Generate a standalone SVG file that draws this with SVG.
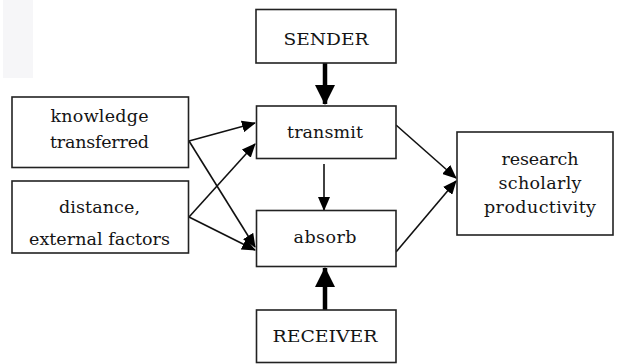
<svg xmlns="http://www.w3.org/2000/svg" width="624" height="364" viewBox="0 0 624 364">
<style>
.box{fill:#fff;stroke:#222;stroke-width:1.6}
.t{font-family:"DejaVu Serif","Liberation Serif",serif;font-size:17.5px;fill:#141414;text-anchor:middle}
.ln{stroke:#111;stroke-width:1.6;fill:none}
.thick{stroke:#000;stroke-width:4.5;fill:none}
</style>
<defs>
<marker id="ah" markerUnits="userSpaceOnUse" markerWidth="14" markerHeight="12" refX="13" refY="6" orient="auto">
<path d="M0,0 L14,6 L0,12 Z" fill="#000"/>
</marker>
<marker id="ahb" markerUnits="userSpaceOnUse" markerWidth="20" markerHeight="20" refX="19" refY="10" orient="auto">
<path d="M0,0 L20,10 L0,20 Z" fill="#000"/>
</marker>
</defs>
<rect x="3" y="0" width="30" height="78" fill="#f6f6f8"/>
<g id="connectors">
<line class="thick" x1="325" y1="63" x2="325" y2="104" marker-end="url(#ahb)"/>
<line class="ln" x1="324" y1="164" x2="324" y2="210" marker-end="url(#ah)"/>
<line class="thick" x1="325" y1="310" x2="325" y2="268" marker-end="url(#ahb)"/>
<line class="ln" x1="189" y1="141" x2="255" y2="123" marker-end="url(#ah)"/>
<line class="ln" x1="189" y1="141" x2="255" y2="247" marker-end="url(#ah)"/>
<line class="ln" x1="189" y1="217" x2="255" y2="144" marker-end="url(#ah)"/>
<line class="ln" x1="189" y1="217" x2="255" y2="250" marker-end="url(#ah)"/>
<line class="ln" x1="396" y1="125" x2="456" y2="178" marker-end="url(#ah)"/>
<line class="ln" x1="396" y1="252" x2="456" y2="181" marker-end="url(#ah)"/>
</g>
<g id="sender">
<rect class="box" x="256" y="9.5" width="140" height="53.5"/>
<text class="t" x="326" y="45" textLength="85" lengthAdjust="spacingAndGlyphs">SENDER</text>
</g>
<g id="transmit">
<rect class="box" x="256.5" y="106" width="139.5" height="52.5"/>
<text class="t" x="325" y="138" textLength="76" lengthAdjust="spacing">transmit</text>
</g>
<g id="absorb">
<rect class="box" x="256.5" y="210.5" width="139.5" height="56"/>
<text class="t" x="325" y="243" textLength="63" lengthAdjust="spacing">absorb</text>
</g>
<g id="receiver">
<rect class="box" x="256.5" y="310" width="139.5" height="52.5"/>
<text class="t" x="325" y="342" textLength="105" lengthAdjust="spacingAndGlyphs">RECEIVER</text>
</g>
<g id="knowledge">
<rect class="box" x="12" y="97" width="176.5" height="70.5"/>
<text class="t" x="99.5" y="122" textLength="98" lengthAdjust="spacing">knowledge</text>
<text class="t" x="99.5" y="148" textLength="99" lengthAdjust="spacing">transferred</text>
</g>
<g id="distance">
<rect class="box" x="12" y="181" width="176.5" height="72"/>
<text class="t" x="99.5" y="213" textLength="81" lengthAdjust="spacing">distance,</text>
<text class="t" x="99.5" y="245" textLength="141" lengthAdjust="spacing">external factors</text>
</g>
<g id="research">
<rect class="box" x="457" y="132" width="156" height="103"/>
<text class="t" x="540" y="165" textLength="77" lengthAdjust="spacing">research</text>
<text class="t" x="540" y="189" textLength="83" lengthAdjust="spacing">scholarly</text>
<text class="t" x="540" y="213" textLength="112" lengthAdjust="spacing">productivity</text>
</g>
</svg>
